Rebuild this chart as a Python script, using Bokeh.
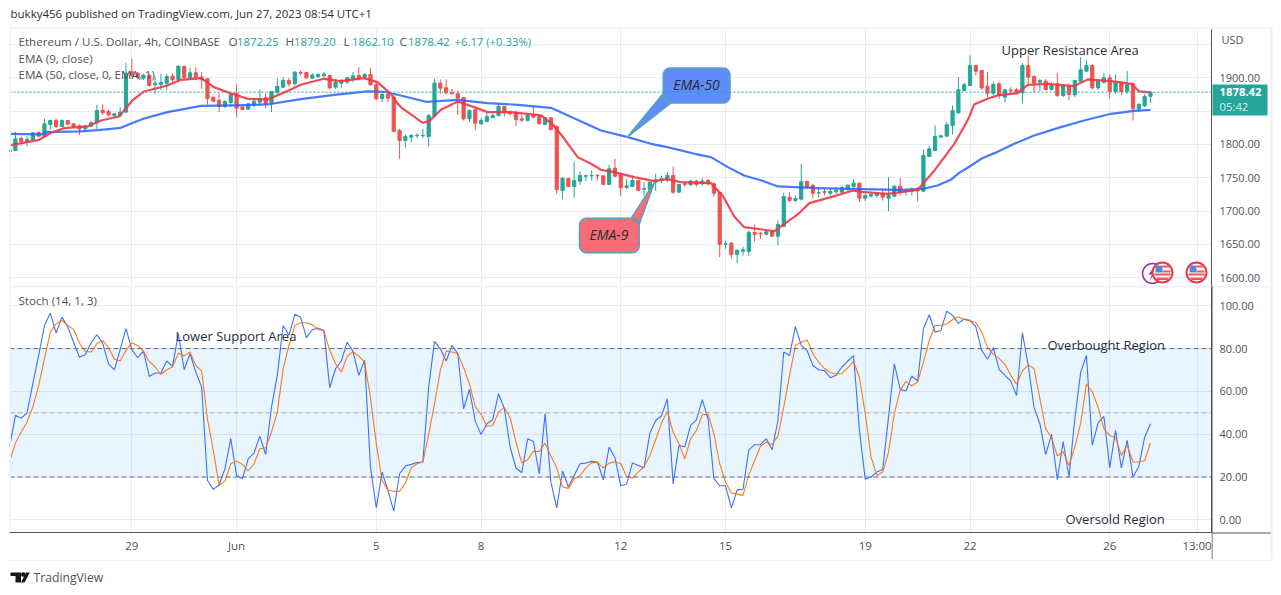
import math
from bokeh.plotting import figure
from bokeh.layouts import column, row
from bokeh.models import Label, BoxAnnotation, Span, FixedTicker, PrintfTickFormatter
from bokeh.embed import file_html
from bokeh.resources import INLINE

# ---------- data ----------
opens = [1789,1791,1809,1804.5,1807,1818,1812,1830,1836,1827,
1836,1831,1828,1823.5,1827.5,1832.5,1851,1849.5,1843.5,1843.5,
1848.5,1909,1907,1899.5,1903.5,1889.5,1890,1892,1902.5,1897.5,
1917,1900,1907.5,1901,1898.5,1871,1866,1857,1863,1876,
1856,1853,1860,1863.5,1870,1862,1878.5,1886,1896,1891,
1908,1908,1899.5,1902,1903,1903.5,1886,1892,1893.5,1898.5,
1903.5,1901,1905,1890,1869,1875,1871,1821,1806,1811,
1813,1813,1812,1842.5,1892,1885,1877.5,1876,1870.5,1838.5,
1852,1831,1834.5,1840.5,1843.5,1857,1848.5,1848,1838.5,1836,
1845,1842,1830,1840,1827,1731,1749,1737,1745,1752.5,
1753,1753.5,1753,1740,1764.5,1755,1735.5,1737,1746,1733,
1732.5,1743.5,1746,1747,1753.5,1728.5,1741,1739.5,1745,1741,
1746,1741,1728,1650,1652,1635,1640,1639.5,1668,1667,
1665.5,1669.5,1662.5,1677,1721,1716,1718,1744.5,1738.5,1727,
1729,1727,1729,1728.5,1733,1737,1742,1719.5,1722.5,1723.5,
1726,1719.5,1722.5,1737.5,1729.5,1730,1732,1730,1782,1791,
1811,1812.5,1828.5,1847.5,1881,1888.5,1918.5,1911,1887,1877,
1891,1871,1881.5,1882,1877.5,1918.5,1902,1893.5,1895,1882.5,
1891,1873.5,1887,1874.5,1895,1910,1918.5,1885,1893.5,1900,
1879.5,1893.5,1879.5,1891,1853,1858,1872.25]
highs = [1792.5,1819,1812,1812,1818.5,1819.5,1838.5,1837,1838.5,1837.5,
1836,1831,1830,1830,1835,1859.5,1860,1852.5,1847.5,1856,
1922,1928.5,1908.5,1906,1906,1902,1906,1906,1907,1918.5,
1918.5,1915,1916,1908.5,1899.5,1872,1877,1866,1876,1890,
1860,1862,1868.5,1882,1877,1880,1899.5,1901,1900,1910,
1911,1909,1907,1907,1908.5,1905,1898.5,1898.5,1901,1908.5,
1916,1907,1915,1893.5,1877,1877,1873.5,1823.5,1815,1815,
1817,1823.5,1846,1898.5,1897.5,1897.5,1883.5,1881,1871.5,1852.5,
1853.5,1840,1848.5,1846,1861,1857.5,1851,1851,1843.5,1847,
1856,1843.5,1841,1841,1828.5,1750.5,1750,1774.5,1759.5,1755,
1761,1756,1753.5,1770,1778.5,1756,1748.5,1753.5,1747,1743.5,
1745,1756,1753.5,1758.5,1767,1741,1743.5,1747,1747,1750,
1748.5,1743.5,1728.5,1656,1653.5,1643.5,1647,1671,1680,1668.5,
1671,1671,1686,1727.5,1728.5,1723.5,1771,1746,1741,1733.5,
1733.5,1733.5,1737,1738.5,1740,1747.5,1743,1726,1727,1728.5,
1733.5,1751,1738.5,1749.5,1733.5,1736,1736,1792.5,1798.5,1828.5,
1814,1833.5,1858.5,1901,1893,1933.5,1919.5,1912,1908.5,1893.5,
1893.5,1883.5,1886,1885,1922.5,1933.5,1903.5,1898.5,1898.5,1893.5,
1907,1890,1891,1897,1931,1926,1920,1897,1907,1905,
1905,1893.5,1910,1892,1862,1876,1879.2]
lows = [1789,1791,1798.5,1797.5,1806,1811,1811,1822,1824.5,1826,
1830.5,1824.5,1814,1821,1826,1823.5,1844.5,1842,1840,1841,
1848.5,1901,1898.5,1897,1887,1876,1882,1882,1893.5,1893.5,
1898.5,1898.5,1896,1883.5,1860,1863.5,1848.5,1855,1856,1841,
1851,1852,1856,1858.5,1854.5,1848.5,1876,1885,1887,1888.5,
1903.5,1898.5,1898.5,1900,1901,1882.5,1883.5,1885,1891,1893.5,
1896,1898.5,1888.5,1867,1863.5,1863.5,1818.5,1778,1794.5,1803.5,
1810,1810,1797,1841,1876,1875,1875,1844.5,1836,1833.5,
1821,1830,1833.5,1839,1842,1842,1843.5,1827.5,1833.5,1834.5,
1840,1830,1829.5,1821,1726,1718,1736,1720,1739.5,1745,
1746,1746,1740,1740,1751,1722,1733.5,1736,1730,1723.5,
1726,1730,1742,1743.5,1726,1727.5,1736,1738.5,1737,1738.5,
1738.5,1722,1631,1643.5,1628.5,1622,1633.5,1632.5,1653.5,1658.5,
1663.5,1662,1648.5,1676,1713.5,1713.5,1716,1733.5,1719.5,1721,
1723.5,1723.5,1726,1727,1730,1735,1713.5,1715,1721,1720,
1716,1700,1721,1723.5,1723.5,1723.5,1714.5,1728.5,1781,1790,
1810,1811,1815,1846,1880,1887.5,1903.5,1882,1871,1873.5,
1868.5,1863.5,1876,1875,1862,1891,1878.5,1879.5,1881,1881,
1871,1871,1866,1871,1893.5,1908.5,1882.5,1882,1891,1868.5,
1876,1873.5,1876,1836,1848.5,1856,1862.1]
closes = [1792,1808.5,1804.5,1807.5,1817.5,1812.5,1831,1836,1827,1836,
1830.5,1826.5,1823,1827.5,1832.5,1851,1847.5,1844.5,1846,1848.5,
1907,1903.5,1901,1904,1888.5,1892,1893,1902,1897,1917.5,
1900,1907.5,1900,1898,1869,1865,1857,1864.5,1875,1854.5,
1852.5,1861,1865,1869,1861,1879.5,1887,1896,1891,1908.5,
1907,1900,1904,1905,1905.5,1885,1893.5,1895,1900,1903,
1898.5,1905,1889.5,1868.5,1875,1869.5,1819.5,1806,1812,1813.5,
1813.5,1813.5,1843.5,1892,1884.5,1877.5,1876,1869.5,1838.5,1851,
1832,1836,1842,1843.5,1857,1847.5,1846,1837.5,1836.5,1843.5,
1841,1831,1840,1822.5,1732.5,1749.5,1737,1746,1753.5,1753,
1753.5,1753,1740,1763.5,1752.5,1735,1738,1746,1731,1733.5,
1743.5,1747,1748.5,1753.5,1728.5,1740,1740,1745,1740,1745,
1741,1727,1650,1651,1635,1641,1642,1668,1665,1666,
1669,1662.5,1680,1722,1716,1719,1744,1736,1727,1727.5,
1728.5,1729.5,1731,1735,1739,1742,1719.5,1723.5,1725,1726,
1721,1723.5,1737.5,1728.5,1731,1732,1730.5,1783.5,1793.5,1812,
1813,1829.5,1851,1882,1889.5,1918.5,1910,1885,1877,1890,
1873.5,1882,1880.5,1877,1918.5,1901,1892,1896,1882.5,1888.5,
1873.5,1888.5,1875,1896,1912,1918.5,1885,1895,1900,1879.5,
1893.5,1879.5,1890,1853.5,1860,1872,1878.42]

ema50_bars = [0.2,5.4,6.5,12.2,15.7,19.1,20.8,23,27.1,32.9,38.6,44.3,50,55.8,61.5,64.4,67.2,71.5,77,82.1,87.3,93,98.2,101.6,106.2,110.2,113,117.7,120.5,123.4,126.2,129.2,132,138.8,144.5,153.1,157,159.4,161.7,162.9,165.2,166.9,169.2,172.6,176,180.6,184.6,189.2,193.2,196]
ema50_vals = [1816,1815,1818.5,1819.5,1822,1825,1831,1838.5,1848.5,1858,1858.5,1860,1868,1874.5,1879.5,1879,1873.5,1864,1867,1862,1859.5,1855,1834.5,1821,1811,1801,1796,1786,1781,1766,1753.5,1746,1737,1734.5,1733.5,1732,1733.5,1738.5,1747,1756,1768.5,1778.5,1787,1801,1813.5,1826,1836,1846,1850.5,1852]
ema9_bars = [0.2,5.1,7.1,9.4,13.4,15.7,18.8,21.1,23.1,27.1,29.4,32.9,35.1,37.4,40.9,44.3,47.7,50,54,56.9,60.9,63.2,65.5,66.6,67.5,71,72.1,74.1,77,79.8,82.1,86.1,91.3,93.5,95.3,97.6,99.9,101.6,103.9,107.3,110.8,113,115.3,120.5,122.5,124.5,126.2,131.4,133.1,135.4,137.4,141.7,144.9,146.3,150.9,156,158.9,160.6,162.3,164.1,164.9,165.7,168,169.7,173.2,174.9,178.3,182.9,185.2,189.2,192.7,194.1,196]
ema9_vals = [1799,1807,1817.5,1824.5,1827,1836,1842,1866,1879.5,1888.5,1897,1899.5,1886,1878.5,1868.5,1867.5,1880,1889.5,1898.5,1895,1899.5,1893.5,1876,1862,1854,1832.5,1835,1852,1864.5,1856,1848.5,1848.5,1843.5,1828.5,1808.5,1781,1771,1762,1758.5,1751,1745,1748,1743.5,1742,1723.5,1692,1676,1670,1681,1695,1712,1722.5,1731,1729,1726,1732,1761,1781,1801,1828.5,1842,1860,1868.5,1873.5,1877,1889.5,1891,1887.5,1897.5,1895,1891,1879.5,1878]

stoch_k = [34.0,48.8,47.5,49.9,63.6,76.8,90.8,96.6,87.3,94.7,90.1,83.0,76.0,77.1,82.6,86.5,82.6,72.9,70.1,79.5,89.3,79.5,75.7,78.8,67.0,68.6,68.6,74.2,71.7,87.0,70.1,77.6,69.0,62.0,18.4,14.2,16.4,23.8,37.9,20.7,19.2,28.5,31.2,39.1,30.5,52.7,67.5,90.8,86.2,96.0,94.7,85.1,88.8,89.6,88.5,61.7,70.6,74.2,83.0,78.7,67.5,74.5,24.6,5.6,22.3,13.7,4.1,21.5,25.1,25.9,26.8,27.0,62.0,
83.4,79.9,74.2,81.5,77.6,51.9,60.9,46.1,39.9,44.9,46.9,58.9,51.9,34.0,24.2,22.0,37.9,36.6,21.5,49.6,17.6,5.6,22.8,15.3,20.7,26.2,26.5,27.3,27.0,18.7,34.0,29.0,15.9,16.7,26.5,25.4,24.3,40.5,46.4,48.5,56.6,16.8,34.8,34.0,44.1,46.7,56.1,47.2,19.2,15.9,15.9,5.6,14.0,14.3,32.7,35.1,35.1,37.9,32.7,46.4,78.4,76.8,90.4,81.5,79.2,72.1,70.1,69.7,66.4,67.6,71.4,74.2,76.7,
41.8,18.9,20.0,22.3,23.5,48.0,72.9,60.9,60.2,67.2,64.8,89.3,95.8,87.7,88.5,97.5,95.5,91.8,93.8,93.2,90.1,79.2,75.0,80.4,70.3,67.5,64.8,58.1,87.4,72.1,52.4,44.9,30.5,39.9,18.7,36.6,20.0,47.2,68.7,76.8,34.8,45.3,48.3,24.3,41.8,24.3,37.1,20.0,24.9,38.6,44.9]
stoch_d = [27.0,35.8,41.0,45.7,52.7,62.8,75.3,87.7,91.6,93.2,90.8,89.0,82.6,78.7,78.4,82.3,83.8,80.4,75.0,74.2,79.2,82.7,81.5,78.7,74.0,71.4,67.9,70.1,71.4,77.9,76.5,78.4,72.1,69.5,47.2,32.4,16.1,18.1,26.2,27.4,25.9,22.8,26.2,33.2,33.7,41.0,50.3,70.6,81.5,90.8,92.1,92.1,91.2,88.8,88.5,79.2,72.9,69.0,76.4,78.5,76.5,73.7,57.3,35.5,18.4,14.0,13.3,13.4,17.1,24.3,26.2,27.0,
39.9,54.2,69.8,78.8,78.4,77.6,71.1,63.6,53.0,49.2,43.6,44.1,50.3,52.4,47.7,36.3,26.5,28.1,32.1,31.9,35.8,29.8,24.3,15.3,14.7,19.2,20.7,24.3,26.7,26.8,24.3,26.5,27.1,26.2,20.3,19.6,22.3,24.9,30.1,37.4,45.2,50.6,41.0,35.5,28.5,37.9,41.8,49.1,49.4,40.2,26.2,17.6,12.5,12.0,11.4,21.0,27.7,34.4,36.3,35.2,39.1,52.7,67.5,81.5,83.0,84.0,77.6,73.7,70.7,68.7,68.1,68.4,71.1,74.0,
66.4,49.6,29.3,20.7,22.3,31.6,49.6,60.5,64.7,62.6,64.4,73.7,83.8,90.8,90.8,91.5,93.5,94.9,93.6,92.9,92.2,87.7,80.7,77.3,75.3,72.6,67.5,63.3,69.5,72.5,70.6,56.6,42.5,38.6,29.8,31.8,25.4,34.0,44.9,63.6,59.7,52.7,42.5,39.4,38.3,30.1,34.8,27.0,27.0,27.6,36.0]

day_ticks = [21,39,63,81,105,123,147,165,189,204]
day_labels = ["29","Jun","5","8","12","15","19","22","26","13:00"]
price_ticks = [1600,1650,1700,1750,1800,1900]
price_grid = [1600,1650,1700,1750,1800,1850,1900,1950]
stoch_ticks = [0,20,40,60,80,100]

assert all(len(a)==197 for a in (opens,highs,lows,closes)), [len(a) for a in (opens,highs,lows,closes)]
assert len(stoch_k)==197 and len(stoch_d)==197, (len(stoch_k),len(stoch_d))
assert len(ema50_bars)==len(ema50_vals) and len(ema9_bars)==len(ema9_vals), (len(ema50_bars),len(ema50_vals),len(ema9_bars),len(ema9_vals))

# ---------- scales: pixel position of the panes on the page ----------
FRAME_L, FRAME_R = 9, 1211
TOP, P1_B, P2_B, BOTTOM = 29, 285, 532, 559
RIGHT_W = 62
BAR0, BAR_W = 9.06, 5.821
def bx(px): return (px-BAR0)/BAR_W
def py1(y): return 1900+(77.3-y)*1.5
def py2(y): return (519.3-y)/2.14

FONT = "Open Sans"
GRID = "#e6edf4"
TXT = "#50535e"
BORDER = "#eef1f5"
INK = "#2a2e39"
UP, DOWN = "#26a69a", "#ef5350"
xr = (bx(FRAME_L), bx(FRAME_R))
OFF = {}

def make_fig(top, frame_h, bottom, yr, ticks, grid_ticks, xaxis):
    p = figure(frame_width=FRAME_R-FRAME_L, frame_height=frame_h, output_backend="svg", toolbar_location=None,
               x_range=xr, y_range=yr, y_axis_location="right",
               x_axis_location="below" if xaxis else None,
               min_border_left=FRAME_L-8, min_border_right=RIGHT_W,
               min_border_top=0, min_border_bottom=bottom,
               background_fill_color="white", border_fill_color=None, outline_line_color=None)
    OFF[id(p)] = (8, top)
    p.xgrid.ticker = FixedTicker(ticks=day_ticks)
    p.ygrid.ticker = FixedTicker(ticks=grid_ticks)
    for g in (p.xgrid, p.ygrid):
        g.grid_line_color = GRID
        g.grid_line_width = 1
    ax = p.yaxis[0]
    ax.ticker = FixedTicker(ticks=ticks)
    ax.formatter = PrintfTickFormatter(format="%.2f")
    ax.major_tick_line_color = None
    ax.minor_tick_line_color = None
    ax.major_tick_out = 0
    ax.major_tick_in = 0
    ax.minor_tick_out = 0
    ax.minor_tick_in = 0
    ax.axis_line_color = TXT
    ax.major_label_text_color = TXT
    ax.major_label_text_font = FONT
    ax.major_label_text_font_size = "11px"
    ax.major_label_standoff = 8
    return p

def page_fig(x0, y0, w, h):
    """transparent layer whose frame covers its whole canvas, in page pixels"""
    p = figure(frame_width=w, frame_height=h, output_backend="svg", toolbar_location=None,
               x_range=(x0, x0+w), y_range=(y0+h, y0), x_axis_location=None, y_axis_location=None,
               min_border=0, outline_line_color=None, border_fill_color=None, background_fill_color=None)
    p.xgrid.visible = False
    p.ygrid.visible = False
    OFF[id(p)] = (x0, y0)
    return p

def txt(p, x, y, s, color=TXT, size=11.6, align="left", weight="normal", style=None):
    ox, oy = OFF[id(p)]
    p.add_layout(Label(x=x-ox, y=y-oy-1, x_units="canvas", y_units="canvas", text=s, text_color=color,
                       text_font=FONT, text_font_size=f"{size}px", text_align=align,
                       text_baseline="middle", text_font_style=style if style else weight))

def box(p, x0, y0, x1, y1, color, level="overlay"):
    ox, oy = OFF[id(p)]
    p.add_layout(BoxAnnotation(left=x0-ox, right=x1-ox, top=y0-oy, bottom=y1-oy, left_units="canvas", right_units="canvas",
                               top_units="canvas", bottom_units="canvas", fill_color=color, fill_alpha=1,
                               line_color=None, level=level))

# ---------- header ----------
head = page_fig(8, 0, 1265, TOP)
txt(head, 10, 13.5, "bukky456 published on TradingView.com, Jun 27, 2023 08:54 UTC+1", color=INK, size=11.5)
box(head, 9, 27, 1272, 28.5, BORDER)
box(head, 9, 27, 10.5, 29, BORDER)
box(head, 1270, 27, 1272, 29, BORDER)
box(head, 1211, 28.5, 1212, 29, TXT)

# ---------- price pane ----------
p1 = make_fig(TOP, P1_B-TOP, 0, (py1(P1_B), py1(TOP)), price_ticks, price_grid, False)
bars = list(range(len(closes)))
up = [i for i in bars if closes[i] >= opens[i]]
dn = [i for i in bars if closes[i] < opens[i]]
for idx, col in ((up, UP), (dn, DOWN)):
    p1.segment([i for i in idx], [highs[i] for i in idx], [i for i in idx], [lows[i] for i in idx], line_color=col, line_width=1)
    p1.vbar([i for i in idx], 0.55, [opens[i] for i in idx], [closes[i] for i in idx], fill_color=col, line_color=col, line_width=1)
p1.add_layout(Span(location=closes[-1], dimension="width", line_color=UP, line_width=1, line_dash="2 2"))
p1.line(ema50_bars, ema50_vals, line_color="#2962ff", line_width=2.2, line_alpha=0.85, line_join="round")
p1.line(ema9_bars, ema9_vals, line_color="#f23645", line_width=2.2, line_alpha=0.9, line_join="round")

def rounded(x0, y0, x1, y1, r, tail):
    """polygon of a rounded box in page pixels; tail = (edge points) inserted at its position"""
    pts = []
    for cx, cy, a0 in ((x1-r, y0+r, -90), (x1-r, y1-r, 0), (x0+r, y1-r, 90), (x0+r, y0+r, 180)):
        for k in range(7):
            a = math.radians(a0+15*k)
            pts.append((cx+r*math.cos(a), cy+r*math.sin(a)))
        pts.append(None)
    out = []
    seg = 0
    for q in pts:
        if q is None:
            seg += 1
            if seg in tail:
                out.extend(tail[seg])
        else:
            out.append(q)
    return out

def callout(poly, fill, alpha, label, cx, cy):
    p1.patch([bx(a) for a, _ in poly], [py1(b) for _, b in poly], fill_color=fill, fill_alpha=alpha,
             line_color="#5aa0b8", line_width=1.5, line_join="round")
    txt(p1, cx, cy, label, color=INK, size=14, align="center", style="italic")

callout(rounded(662.7, 67.5, 729.5, 102.5, 7, {2: [(670.5, 102.5), (626.7, 136.7), (662.7, 93)]}),
        "#4c7ffb", 0.9, "EMA-50", 696, 85)
callout(rounded(579, 217.7, 638.7, 252.3, 7, {4: [(630.7, 217.7), (654, 181.7), (638.7, 224)]}),
        "#f6525f", 0.85, "EMA-9", 608.5, 235)

# event icons
ring = "#9c27b0"
p1.scatter([bx(1152)], [py1(273)], size=20, marker="circle", fill_color="white", line_color=ring, line_width=1.5)
p1.patch([bx(v) for v in (1154, 1148, 1151.5, 1149, 1155, 1151.5)], [py1(v) for v in (266, 274, 274, 280, 272, 272)], fill_color=ring, line_color=None)
for cx in (1162, 1196):
    cy = 272
    p1.scatter([bx(cx)], [py1(cy)], size=20, marker="circle", fill_color="white", line_color="#f23645", line_width=2)
    p1.quad(left=[bx(cx-7)], right=[bx(cx)], top=[py1(cy-7)], bottom=[py1(cy)], fill_color="#5a86d6", line_color=None)
    p1.quad(left=[bx(cx), bx(cx), bx(cx-8)], right=[bx(cx+7), bx(cx+8), bx(cx+8)],
            top=[py1(cy-7), py1(cy-2), py1(cy+1)], bottom=[py1(cy-5), py1(cy), py1(cy+3)], fill_color="#f2545f", line_color=None)
    p1.quad(left=[bx(cx-6)], right=[bx(cx+6)], top=[py1(cy+5)], bottom=[py1(cy+7.5)], fill_color="#f2545f", line_color=None)

txt(p1, 18, 42, "Ethereum / U.S. Dollar, 4h, COINBASE")
for x, a, b in ((228, "O", "1872.25"), (285, "H", "1879.20"), (343, "L", "1862.10"), (399, "C", "1878.42")):
    txt(p1, x, 42, a)
    txt(p1, x+8.5, 42, b, color=UP, size=11.3)
txt(p1, 454, 42, "+6.17 (+0.33%)", color=UP, size=11.3)
txt(p1, 18, 59, "EMA (9, close)")
txt(p1, 18, 75, "EMA (50, close, 0, EMA, 1)")
txt(p1, 1001, 50, "Upper Resistance Area", color=INK, size=13)
box(p1, 9, TOP, 10.5, P1_B, BORDER)

s1 = page_fig(1211, TOP, RIGHT_W, P1_B-TOP)
s1.margin = (0, 0, 0, -RIGHT_W)
txt(s1, 1221, 40, "USD", size=11)
box(s1, 1212, 84, 1267, 115, UP, level="underlay")
txt(s1, 1219, 92.5, "1878.42", color="white", size=11.3, weight="bold")
txt(s1, 1219, 107, "05:42", color="#d6f0ed", size=11.3)
box(s1, 1270, TOP, 1272, P1_B, BORDER)

# ---------- stochastic pane ----------
p2 = make_fig(P1_B, P2_B-P1_B, BOTTOM-P2_B, (py2(P2_B), py2(P1_B)), stoch_ticks, stoch_ticks, True)
p2.add_layout(BoxAnnotation(bottom=20, top=80, fill_color="#2196f3", fill_alpha=0.1, line_color=None, level="underlay"))
for lv, c in ((80, "#6a6d78"), (50, "#a9acb5"), (20, "#6a6d78")):
    p2.add_layout(Span(location=lv, dimension="width", line_color=c, line_width=1, line_dash="5 3"))
p2.line(bars, stoch_k, line_color="#2962ff", line_width=1.1, line_alpha=0.9)
p2.line(bars, stoch_d, line_color="#ff6d00", line_width=1.1, line_alpha=0.9)

xa = p2.xaxis[0]
xa.ticker = FixedTicker(ticks=day_ticks)
xa.major_label_overrides = dict(zip(day_ticks, day_labels))
xa.major_tick_line_color = None
xa.minor_tick_line_color = None
xa.major_tick_out = 0
xa.major_tick_in = 0
xa.minor_tick_out = 0
xa.minor_tick_in = 0
xa.axis_line_color = TXT
xa.major_label_text_color = TXT
xa.major_label_text_font = FONT
xa.major_label_text_font_size = "11.5px"
xa.major_label_standoff = 5

txt(p2, 18, 301, "Stoch (14, 1, 3)")
txt(p2, 175, 336, "Lower Support Area", color=INK, size=13)
txt(p2, 1047, 345, "Overbought Region", color=INK, size=13)
txt(p2, 1065, 519, "Oversold Region", color=INK, size=13)
box(p2, 9, P1_B, 10.5, P2_B, BORDER)
box(p2, 9, P1_B, 1211, P1_B+2, BORDER)

s2 = page_fig(1211, P1_B, RIGHT_W, BOTTOM-P1_B)
s2.margin = (0, 0, 0, -RIGHT_W)
box(s2, 1212, P1_B, 1272, P1_B+2, BORDER)
box(s2, 1270, P1_B, 1272, BOTTOM, BORDER)
box(s2, 1211, P1_B, 1212, BOTTOM, TXT)
box(s2, 1211, P2_B, 1270, P2_B+1, TXT)

# ---------- footer ----------
p3 = page_fig(8, BOTTOM, 1265, 26)
box(p3, 9, 559, 1272, 560.7, BORDER)
logo = "#131722"
p3.patch([10, 20.6, 20.6, 15, 15, 10], [572, 572, 582, 582, 575.5, 575.5], fill_color=logo, line_color=None)
p3.scatter([22.8], [574], size=4.5, marker="circle", fill_color=logo, line_color=None)
p3.patch([25.5, 29.3, 24, 20.5], [572, 572, 582, 582], fill_color=logo, line_color=None)
txt(p3, 33, 578, "TradingView", size=12.2)

lay = column(head, row(p1, s1, spacing=0), row(p2, s2, spacing=0), p3, spacing=0, margin=(0, 0, 0, 8))
open("out.html", "w").write(file_html(lay, INLINE))
